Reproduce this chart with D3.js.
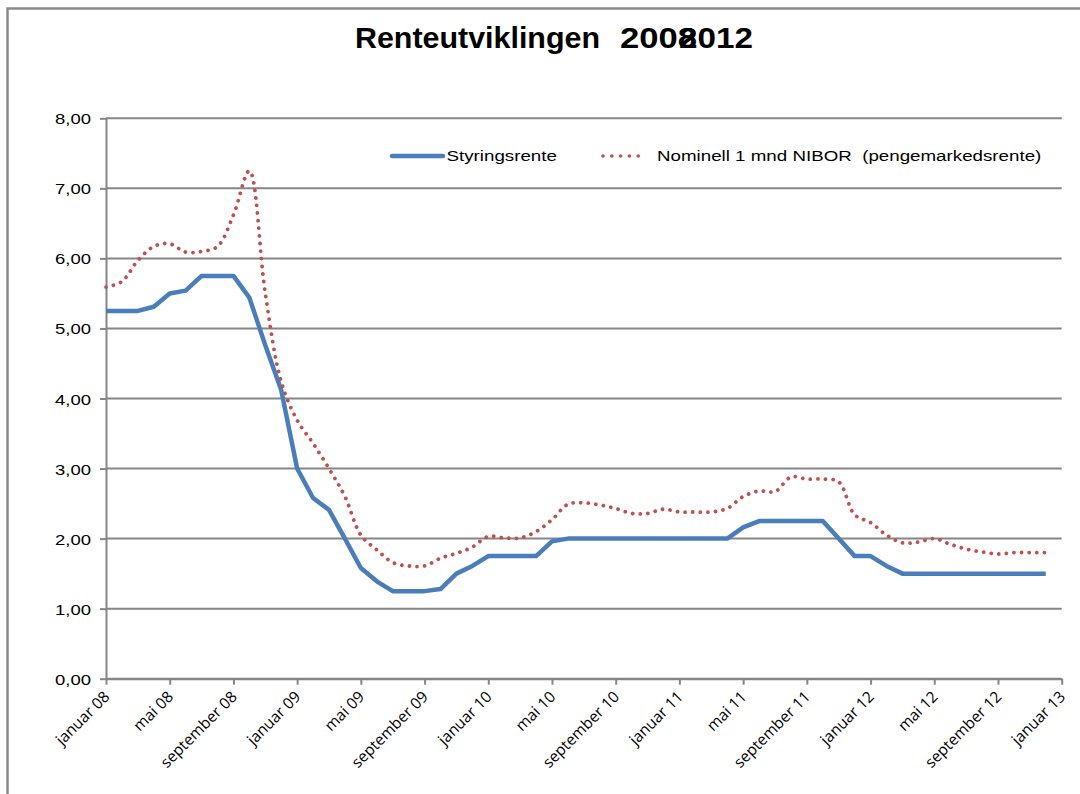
<!DOCTYPE html>
<head>
  <meta charset="utf-8">
  <style>
    body { margin: 0; background: #fff; }
  </style>
</head>
<body>
  <div id="chart"></div>
  <script src="https://cdn.jsdelivr.net/npm/d3@7"></script>
  <script>

    // month index 0 = januar 08 ... 59 = desember 12
    var tickLabels = ["januar 08", "mai 08", "september 08",
                      "januar 09", "mai 09", "september 09",
                      "januar 10", "mai 10", "september 10",
                      "januar 11", "mai 11", "september 11",
                      "januar 12", "mai 12", "september 12",
                      "januar 13"]
    var yTicks = [0, 1, 2, 3, 4, 5, 6, 7, 8]

    var styringsrente = [
      5.25, 5.25, 5.25, 5.31, 5.50, 5.54, 5.75, 5.75, 5.75, 5.44, 4.76, 4.12,
      3.00, 2.58, 2.41, 2.00, 1.58, 1.39, 1.25, 1.25, 1.25, 1.28, 1.50, 1.61,
      1.75, 1.75, 1.75, 1.75, 1.96, 2.00, 2.00, 2.00, 2.00, 2.00, 2.00, 2.00,
      2.00, 2.00, 2.00, 2.00, 2.16, 2.25, 2.25, 2.25, 2.25, 2.25, 2.00, 1.75,
      1.75, 1.61, 1.50, 1.50, 1.50, 1.50, 1.50, 1.50, 1.50, 1.50, 1.50, 1.50]

    var nibor = [
      5.59, 5.67, 5.97, 6.17, 6.21, 6.09, 6.10, 6.17, 6.62, 7.25, 5.50, 4.24,
      3.69, 3.36, 3.00, 2.60, 2.05, 1.84, 1.66, 1.61, 1.61, 1.72, 1.79, 1.88,
      2.03, 2.01, 2.01, 2.10, 2.27, 2.49, 2.51, 2.48, 2.43, 2.36, 2.36, 2.42,
      2.38, 2.38, 2.38, 2.43, 2.60, 2.68, 2.67, 2.88, 2.85, 2.85, 2.81, 2.34,
      2.23, 2.05, 1.94, 1.95, 2.00, 1.92, 1.85, 1.81, 1.78, 1.80, 1.80, 1.80]

    var width = 1080,
        height = 794,
        plotLeft = 106, plotRight = 1061.7,
        plotTop = 118.3, plotBottom = 678.7,
        gridColor = "#868686",
        blue = "#4a7ebb",
        red = "#c0504d"

    var svg = d3.select("#chart").append("svg")
      .attr("width", width)
      .attr("height", height)

    svg.append("rect").attr("width", width).attr("height", height).attr("fill", "white")

    // outer frame (only left and top edges are visible)
    svg.append("path")
      .attr("d", "M7.5," + height + "V8.5H" + width)
      .attr("fill", "none")
      .attr("stroke", "#8a8a8a")
      .attr("stroke-width", 2.5)

    var x = d3.scaleLinear().domain([0, 60]).range([plotLeft, plotRight])
    var y = d3.scaleLinear().domain([0, 8]).range([plotBottom, plotTop])

    var fmt = function (d) { return d3.format(".2f")(d).replace(".", ",") }

    // horizontal grid
    svg.append("g")
      .attr("class", "grid")
      .selectAll("line")
      .data(yTicks)
      .enter().append("line")
        .attr("x1", plotLeft)
        .attr("x2", plotRight)
        .attr("y1", function (d) { return y(d) })
        .attr("y2", function (d) { return y(d) })
        .attr("stroke", gridColor)
        .attr("stroke-width", 2)

    // y axis
    var yAxis = svg.append("g")
      .attr("transform", "translate(" + plotLeft + ",0)")
      .call(d3.axisLeft(y).tickValues(yTicks).tickSize(6).tickSizeOuter(0).tickFormat(fmt))
    yAxis.select(".domain").attr("stroke", gridColor).attr("stroke-width", 2)
    yAxis.selectAll(".tick line").attr("stroke", gridColor).attr("stroke-width", 2)
    yAxis.selectAll(".tick text")
      .attr("x", null)
      .attr("dy", null)
      .attr("transform", "translate(-15,5.5) scale(1.23,1)")
      .attr("font-family", "Liberation Sans, Arial, sans-serif")
      .attr("font-size", "15px")
      .attr("fill", "#000")

    // x axis
    var xTickValues = tickLabels.map(function (d, i) { return i * 4 })
    var xAxis = svg.append("g")
      .attr("transform", "translate(0," + plotBottom + ")")
      .call(d3.axisBottom(x).tickValues(xTickValues).tickSize(6).tickSizeOuter(0)
        .tickFormat(function (d, i) { return tickLabels[i] }))
    xAxis.select(".domain").attr("stroke", gridColor).attr("stroke-width", 2)
    xAxis.selectAll(".tick line").attr("stroke", gridColor).attr("stroke-width", 2)
    xAxis.selectAll(".tick text")
      .attr("y", null)
      .attr("dy", null)
      .attr("text-anchor", "end")
      .attr("transform", "translate(4,19) rotate(-45)")
      .attr("font-family", "Open Sans, sans-serif")
      .attr("font-size", "15.5px")
      .attr("fill", "#000")

    // lines
    var lineBlue = d3.line()
      .x(function (d, i) { return x(i) })
      .y(function (d) { return y(d) })

    var lineRed = d3.line()
      .x(function (d, i) { return x(i) })
      .y(function (d) { return y(d) })
      .curve(d3.curveCatmullRom.alpha(0.5))

    svg.append("path")
      .datum(styringsrente)
      .attr("d", lineBlue)
      .attr("fill", "none")
      .attr("stroke", blue)
      .attr("stroke-width", 4.5)
      .attr("stroke-linejoin", "round")

    svg.append("path")
      .datum(nibor)
      .attr("d", lineRed)
      .attr("fill", "none")
      .attr("stroke", red)
      .attr("stroke-width", 3.8)
      .attr("stroke-linecap", "round")
      .attr("stroke-dasharray", "0.01 7.6")

    // legend
    var legend = svg.append("g").attr("class", "legend")
    legend.append("line")
      .attr("x1", 392).attr("x2", 443).attr("y1", 156).attr("y2", 156)
      .attr("stroke", blue).attr("stroke-width", 4.5).attr("stroke-linecap", "round")
    legend.append("text")
      .attr("transform", "translate(446.5,160.8) scale(1.25,1)")
      .attr("font-family", "Liberation Sans, Arial, sans-serif")
      .attr("font-size", "15px")
      .text("Styringsrente")
    legend.append("line")
      .attr("x1", 603).attr("x2", 647).attr("y1", 156).attr("y2", 156)
      .attr("stroke", red).attr("stroke-width", 3.6)
      .attr("stroke-linecap", "round").attr("stroke-dasharray", "0.01 8.8")
    legend.append("text")
      .attr("transform", "translate(657,160.8) scale(1.25,1)")
      .attr("font-family", "Liberation Sans, Arial, sans-serif")
      .attr("font-size", "15px")
      .style("white-space", "pre")
      .text("Nominell 1 mnd NIBOR  (pengemarkedsrente)")

    // title, with the two years printed on top of each other as in the original
    var title = svg.append("g")
      .attr("font-family", "Liberation Sans, Arial, sans-serif")
      .attr("font-weight", "bold")
      .attr("font-size", "30px")
      .attr("fill", "#000")
    title.append("text").attr("x", 355).attr("y", 47.5)
      .attr("textLength", 245).attr("lengthAdjust", "spacingAndGlyphs")
      .text("Renteutviklingen")
    title.append("text").attr("x", 620).attr("y", 47.5)
      .attr("textLength", 77).attr("lengthAdjust", "spacingAndGlyphs")
      .text("2008")
    title.append("text").attr("x", 679).attr("y", 47.5)
      .attr("textLength", 74).attr("lengthAdjust", "spacingAndGlyphs")
      .text("2012")

  </script>
</body>
